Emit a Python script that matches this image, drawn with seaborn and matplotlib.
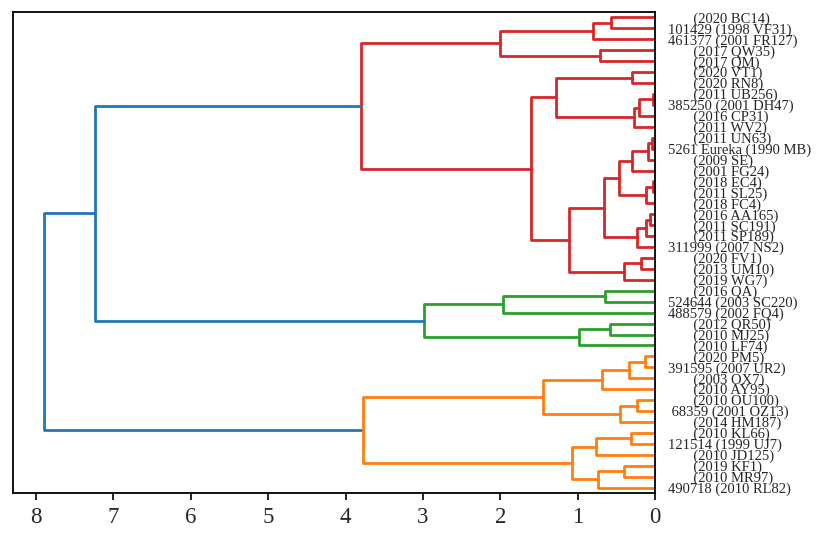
import numpy as np
import pandas as pd
import matplotlib
matplotlib.use("Agg")
import matplotlib.pyplot as plt
import seaborn as sns

# leaves, top to bottom
numbers = ["", "101429", "461377", "", "", "", "", "", "385250", "", "", "", "5261 Eureka",
           "", "", "", "", "", "", "", "", "311999", "", "", "", "", "524644", "488579",
           "", "", "", "", "391595", "", "", "", "68359", "", "", "121514", "", "", "", "490718"]
designations = ["2020 BC14", "1998 VF31", "2001 FR127", "2017 QW35", "2017 QM", "2020 VT1",
                "2020 RN8", "2011 UB256", "2001 DH47", "2016 CP31", "2011 WV2", "2011 UN63",
                "1990 MB", "2009 SE", "2001 FG24", "2018 EC4", "2011 SL25", "2018 FC4",
                "2016 AA165", "2011 SC191", "2011 SP189", "2007 NS2", "2020 FV1", "2013 UM10",
                "2019 WG7", "2016 QA", "2003 SC220", "2002 FQ4", "2012 QR50", "2010 MJ25",
                "2010 LF74", "2020 PM5", "2007 UR2", "2003 OX7", "2010 AY95", "2010 OU100",
                "2001 OZ13", "2014 HM187", "2010 KL66", "1999 UJ7", "2010 JD125", "2019 KF1",
                "2010 MR97", "2010 RL82"]

# merges: new node ids start at 44, in order
merge_left = [0, 44, 3, 45, 5, 7, 49, 50, 48, 11, 53, 54, 15, 56, 55, 18, 59, 60, 58, 22, 63, 62,
              52, 47, 25, 68, 28, 70, 69, 67, 31, 74, 75, 35, 77, 76, 38, 80, 41, 82, 81, 79, 73]
merge_right = [1, 2, 4, 46, 6, 8, 9, 10, 51, 12, 13, 14, 16, 17, 57, 19, 20, 21, 61, 23, 24, 64,
               65, 66, 26, 27, 29, 30, 71, 72, 32, 33, 34, 36, 37, 78, 39, 40, 42, 43, 83, 84, 85]
merge_height = [0.57, 0.80, 0.72, 2.01, 0.305, 0.03, 0.21, 0.275, 1.28, 0.045, 0.09, 0.305,
                0.035, 0.125, 0.465, 0.07, 0.12, 0.24, 0.66, 0.18, 0.41, 1.11, 1.60, 3.80,
                0.65, 1.97, 0.58, 0.99, 2.99, 7.24, 0.13, 0.34, 0.69, 0.23, 0.46, 1.45,
                0.31, 0.76, 0.41, 0.745, 1.07, 3.78, 7.90]

labels = [f"{n:>6} ({d})" for n, d in zip(numbers, designations)]
n_leaves = len(labels)

# node positions (scipy style: leaf spacing 10, bottom leaf at 5)
ypos = {i: 5 + 10 * (n_leaves - 1 - i) for i in range(n_leaves)}
hgt = {i: 0.0 for i in range(n_leaves)}
children = {}
for k, (a, b, h) in enumerate(zip(merge_left, merge_right, merge_height)):
    node = n_leaves + k
    ypos[node] = (ypos[a] + ypos[b]) / 2
    hgt[node] = h
    children[node] = (a, b)
root = n_leaves + len(merge_height) - 1

# colour clusters below 0.7 * max height
threshold = 0.7 * max(merge_height)
palette = sns.color_palette("tab10")
cluster_roots = []
stack = [root]
while stack:
    nd = stack.pop()
    if nd not in children:
        continue
    if hgt[nd] <= threshold:
        cluster_roots.append(nd)
    else:
        stack.extend(children[nd])
cluster_roots.sort(key=lambda nd: ypos[nd])
node_color = {}
for ci, cr in enumerate(cluster_roots):
    stack = [cr]
    while stack:
        nd = stack.pop()
        if nd in children:
            node_color[nd] = f"C{ci + 1}"
            stack.extend(children[nd])
for nd in children:
    node_color.setdefault(nd, "C0")

rows = []
for nd, (a, b) in children.items():
    pts = [(hgt[a], ypos[a]), (hgt[nd], ypos[a]), (hgt[nd], ypos[b]), (hgt[b], ypos[b])]
    for j, (x, y) in enumerate(pts):
        rows.append({"link": nd, "order": j, "x": x, "y": y, "grp": node_color[nd]})
df = pd.DataFrame(rows)

sns.set_style("ticks")
plt.rcParams["font.family"] = ["Liberation Serif", "DejaVu Serif"]

fig = plt.figure(figsize=(8.3, 5.38), dpi=100)
ax = fig.add_axes([0.0157, 0.0836, 0.7738, 0.8941])

pal = {f"C{i}": palette[i] for i in range(4)}
sns.lineplot(data=df, x="x", y="y", hue="grp", units="link", estimator=None, sort=False,
             palette=pal, linewidth=2.0, legend=False, ax=ax)

ax.set_xlim(1.05 * max(merge_height), 0)
ax.set_ylim(0, 10 * n_leaves)
ax.set_xticks(range(0, 9))
ax.tick_params(axis="x", labelsize=16.5, length=5, width=1.2, pad=5, color="black")
ax.set_yticks([ypos[i] for i in range(n_leaves)], labels)
ax.yaxis.tick_right()
ax.tick_params(axis="y", length=0, pad=9, labelsize=10.5)
ax.set_xlabel("")
ax.set_ylabel("")
for sp in ax.spines.values():
    sp.set_visible(True)
    sp.set_color("black")
    sp.set_linewidth(1.3)

fig.savefig("out.png", dpi=100)
